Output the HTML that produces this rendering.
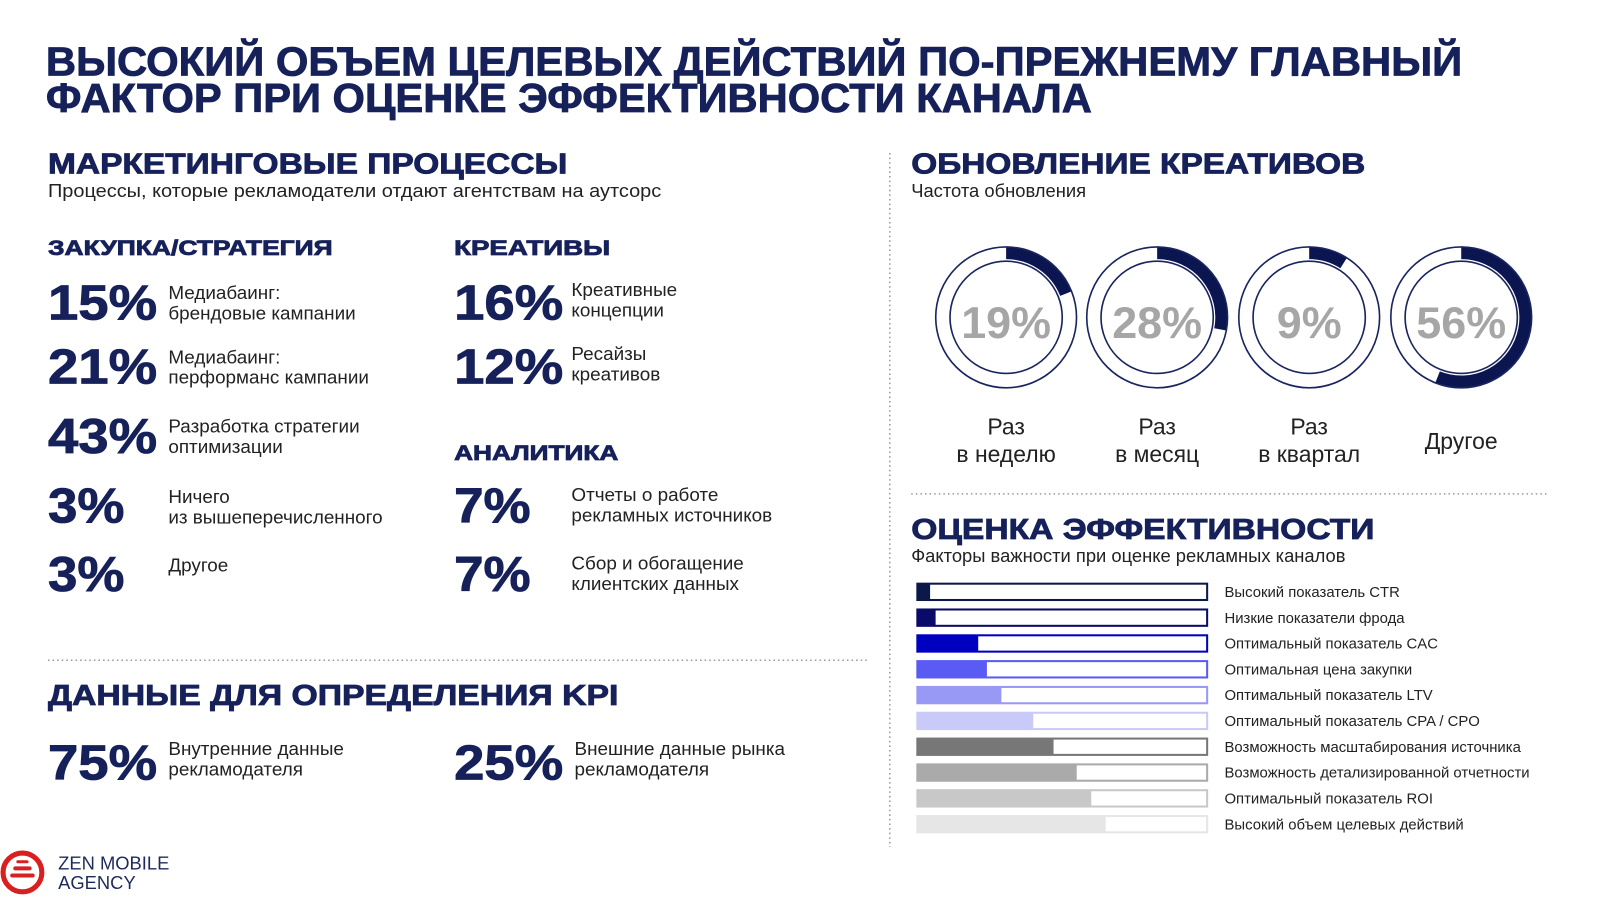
<!DOCTYPE html>
<html><head><meta charset="utf-8"><style>
html,body{margin:0;padding:0;background:#fff;}
svg{display:block;}
text{font-family:"Liberation Sans",sans-serif;}
.h{font-weight:900;fill:#16215a;stroke:#16215a;stroke-width:0.8;}
.t{fill:#222;}
</style></head><body>
<svg id="page" width="1600" height="900" viewBox="0 0 1568 882" xmlns="http://www.w3.org/2000/svg">
<text class="h" x="45" y="74" font-size="40" textLength="1388" lengthAdjust="spacingAndGlyphs">ВЫСОКИЙ ОБЪЕМ ЦЕЛЕВЫХ ДЕЙСТВИЙ ПО-ПРЕЖНЕМУ ГЛАВНЫЙ</text>
<text class="h" x="45" y="110" font-size="40" textLength="1025" lengthAdjust="spacingAndGlyphs">ФАКТОР ПРИ ОЦЕНКЕ ЭФФЕКТИВНОСТИ КАНАЛА</text>

<text class="h" x="47" y="170" font-size="28" textLength="509" lengthAdjust="spacingAndGlyphs">МАРКЕТИНГОВЫЕ ПРОЦЕССЫ</text>
<text class="t" x="47" y="193" font-size="18" textLength="601" lengthAdjust="spacingAndGlyphs">Процессы, которые рекламодатели отдают агентствам на аутсорс</text>

<text class="h" x="47" y="250" font-size="21" textLength="279" lengthAdjust="spacingAndGlyphs">ЗАКУПКА/СТРАТЕГИЯ</text>
<text class="h" x="445" y="250" font-size="21" textLength="153" lengthAdjust="spacingAndGlyphs">КРЕАТИВЫ</text>
<text class="h" x="445" y="451" font-size="21" textLength="161" lengthAdjust="spacingAndGlyphs">АНАЛИТИКА</text>

<g id="stats"></g>

<line x1="47" y1="647" x2="852" y2="647" stroke="#999" stroke-width="1.5" stroke-dasharray="1.5,3"/>
<line x1="872" y1="150" x2="872" y2="830" stroke="#999" stroke-width="1.5" stroke-dasharray="1.5,3"/>
<line x1="893" y1="484" x2="1518" y2="484" stroke="#999" stroke-width="1.5" stroke-dasharray="1.5,3"/>

<text class="h" x="47" y="691" font-size="28" textLength="559" lengthAdjust="spacingAndGlyphs">ДАННЫЕ ДЛЯ ОПРЕДЕЛЕНИЯ KPI</text>

<text class="h" x="893" y="170" font-size="28" textLength="445" lengthAdjust="spacingAndGlyphs">ОБНОВЛЕНИЕ КРЕАТИВОВ</text>
<text class="t" x="893" y="193" font-size="18">Частота обновления</text>
<g id="donuts"></g>

<text class="h" x="893" y="528" font-size="28" textLength="454" lengthAdjust="spacingAndGlyphs">ОЦЕНКА ЭФФЕКТИВНОСТИ</text>
<text class="t" x="893" y="551" font-size="18">Факторы важности при оценке рекламных каналов</text>
<g id="bars"></g>

<g>
<circle cx="22" cy="855" r="19" fill="none" stroke="#d82020" stroke-width="5"/>
<rect x="13" y="849" width="18" height="4" rx="2" fill="#d82020"/>
<rect x="10" y="856" width="24" height="4" rx="2" fill="#d82020"/>
<rect x="16" y="843" width="12" height="3" rx="1.5" fill="#d82020"/>
<text x="57" y="852" font-size="18" fill="#1f2a5c">ZEN MOBILE</text>
<text x="57" y="871" font-size="18" fill="#1f2a5c">AGENCY</text>
</g>
</svg>
<script>
const NS='http://www.w3.org/2000/svg';
// stats data
const statValues=['15%','21%','43%','3%','3%','16%','12%','7%','7%','75%','25%'];
const statLabels=[['Медиабаинг:','брендовые кампании'],['Медиабаинг:','перформанс кампании'],['Разработка стратегии','оптимизации'],['Ничего','из вышеперечисленного'],['Другое'],['Креативные','концепции'],['Ресайзы','креативов'],['Отчеты о работе','рекламных источников'],['Сбор и обогащение','клиентских данных'],['Внутренние данные','рекламодателя'],['Внешние данные рынка','рекламодателя']];
// donut data
const freqCategories=[['Раз','в неделю'],['Раз','в месяц'],['Раз','в квартал'],['Другое']];
const freqValues=[19,28,9,56];
// bar data
const factorLabels=['Высокий показатель CTR','Низкие показатели фрода','Оптимальный показатель CAC','Оптимальная цена закупки','Оптимальный показатель LTV','Оптимальный показатель CPA / CPO','Возможность масштабирования источника','Возможность детализированной отчетности','Оптимальный показатель ROI','Высокий объем целевых действий'];
const factorValues=[4.4,6.3,21,24,29,40,47,55,60,65];
const barColors=['#0c1848','#0a0a68','#0000c0','#5a5af5','#9898f5','#cacaf8','#777777','#aaaaaa','#c8c8c8','#e6e6e6'];

function el(tag,attrs,parent){const e=document.createElementNS(NS,tag);for(const k in attrs)e.setAttribute(k,attrs[k]);parent.appendChild(e);return e;}

const statPos=[[47,313],[47,376],[47,444],[47,512],[47,579],[445,313],[445,376],[445,512],[445,579],[47,764],[445,764]];
const labelTop=[-20,-20,-20,-19,-19,-23,-23,-21,-21,-24,-24];
const sg=document.getElementById('stats');
statValues.forEach((v,i)=>{
  const [x,y]=statPos[i];
  const t=el('text',{x:x,y:y,'font-size':48,class:'h',textLength:(v.length===2?75:107),lengthAdjust:'spacingAndGlyphs'},sg);
  t.textContent=v;
  
  
  const lx=x+(i>=5&&i<=8?115:118);
  statLabels[i].forEach((l,j)=>{
    const ty=y+labelTop[i]+j*20;
    const lt=el('text',{x:lx,y:ty,'font-size':18.5,class:'t'},sg);
    lt.textContent=l;
    
    
  });
});

const dg=document.getElementById('donuts');
const dcx=[986,1134,1283,1432],dcy=311,R=69,r=55;
freqValues.forEach((v,i)=>{
  const cx=dcx[i];
  const g=el('g',{},dg);
  
  
  const rm=(R+r+2)/2, w=R-r-2;
  const a=v/100*2*Math.PI;
  const x1=cx, y1=dcy-rm, x2=cx+rm*Math.sin(a), y2=dcy-rm*Math.cos(a);
  const arc=el('path',{d:`M${x1} ${y1} A${rm} ${rm} 0 ${v>50?1:0} 1 ${x2} ${y2}`,fill:'none',stroke:'#0b1650','stroke-width':w},g);
  
  
  el('circle',{cx:cx,cy:dcy,r:R,fill:'none',stroke:'#1a2560','stroke-width':1.6},g);
  el('circle',{cx:cx,cy:dcy,r:r,fill:'none',stroke:'#1a2560','stroke-width':1.6},g);
  const vt=el('text',{x:cx,y:dcy+20,'text-anchor':'middle','font-size':44,'font-weight':'bold',fill:'#a6a6a6'},g);
  vt.textContent=v+'%';
  
  
  const lines=freqCategories[i];
  lines.forEach((l,j)=>{
    const y=lines.length===1?440:426+j*27;
    const lt=el('text',{x:cx,y:y,'text-anchor':'middle','font-size':22.5,fill:'#222'},g);
    lt.textContent=l;
    
    
  });
});

const bg=document.getElementById('bars');
const bx=899,bw=284,bh=16;
const xs=v=>bw*v/100;
factorValues.forEach((v,i)=>{
  const y=572+i*25.3;
  const g=el('g',{},bg);
  
  
  el('rect',{x:bx,y:y,width:bw,height:bh,fill:'#fff',stroke:barColors[i],'stroke-width':2},g);
  const f=el('rect',{x:bx,y:y,width:xs(v),height:bh,fill:barColors[i]},g);
  
  
  const t=el('text',{x:1200,y:y+13,'font-size':14.6,fill:'#222'},g);
  t.textContent=factorLabels[i];
  
  
});
</script>
</body></html>
